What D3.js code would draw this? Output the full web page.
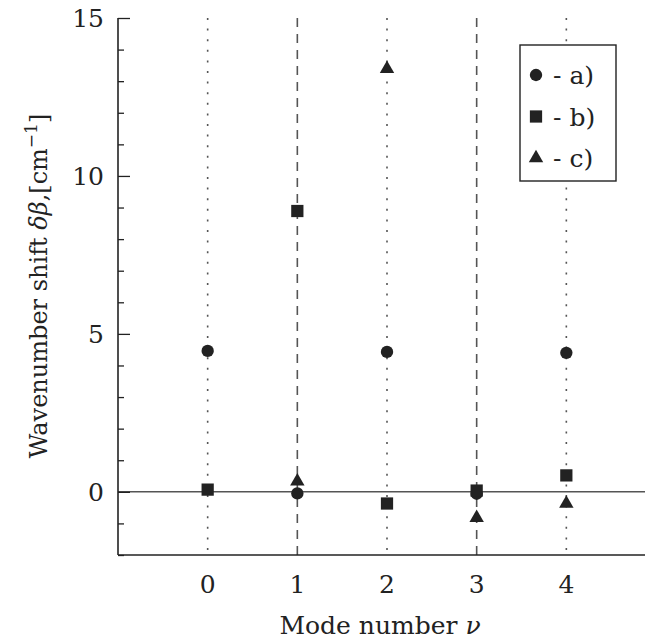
<!DOCTYPE html>
<html>
<head>
<meta charset="utf-8">
<script src="https://cdn.jsdelivr.net/npm/d3@7"></script>
<style>
  body { margin: 0; background: #fff; }
</style>
</head>
<body>
<svg id="chart" width="645" height="642" font-family="'DejaVu Serif', 'Liberation Serif', serif"></svg>
<script>
// mode numbers
const modes = [0, 1, 2, 3, 4];
// wavenumber shift per series (null = not shown)
const seriesA = [4.46, -0.05, 4.43, -0.06, 4.4];
const seriesB = [0.07, 8.89, -0.37, 0.04, 0.52];
const seriesC = [null, 0.33, 13.39, -0.82, -0.37];
const seriesNames = ["a)", "b)", "c)"];
const yTicks = [0, 5, 10, 15];
const dashedModes = [1, 3];

const x = d3.scaleLinear().domain([-1, 5]).range([118, 656]);
const y = d3.scaleLinear().domain([-2, 15]).range([555, 18]);
const serif = "'DejaVu Serif', 'Liberation Serif', serif";

const svg = d3.select("#chart");

// vertical guide lines at each mode
svg.append("g").selectAll("line")
  .data(modes)
  .join("line")
  .attr("x1", d => x(d)).attr("x2", d => x(d))
  .attr("y1", y(15)).attr("y2", y(-2))
  .attr("stroke", "#555")
  .attr("stroke-width", 1.6)
  .attr("stroke-dasharray", d => dashedModes.includes(d) ? "9,7" : "2,8.6");

// zero line
svg.append("line")
  .attr("x1", x(-1)).attr("x2", 645)
  .attr("y1", y(0)).attr("y2", y(0))
  .attr("stroke", "#555").attr("stroke-width", 1.4);

// y axis with inward ticks
let yAxis = d3.axisRight(y)
  .tickValues(d3.range(-2, 16))
  .tickSize(0)
  .tickFormat("");
let gy = svg.append("g").attr("transform", "translate(" + x(-1) + ",0)").call(yAxis);
gy.select(".domain").remove();
gy.selectAll(".tick line")
  .attr("x2", d => yTicks.includes(d) ? 12 : 6)
  .attr("stroke", "#222").attr("stroke-width", 1.3);

svg.append("line")
  .attr("x1", x(-1)).attr("x2", x(-1))
  .attr("y1", y(15)).attr("y2", y(-2))
  .attr("stroke", "#222").attr("stroke-width", 1.6);
svg.append("line")
  .attr("x1", x(-1)).attr("x2", 645)
  .attr("y1", y(-2)).attr("y2", y(-2))
  .attr("stroke", "#222").attr("stroke-width", 1.6);

// tick labels
svg.append("g").selectAll("text")
  .data(yTicks)
  .join("text")
  .attr("x", x(-1) - 14).attr("y", d => y(d) + 9)
  .attr("text-anchor", "end")
  .attr("font-family", serif)
  .attr("font-size", 25)
  .attr("fill", "#222")
  .text(d => d);

svg.append("g").selectAll("text")
  .data(modes)
  .join("text")
  .attr("x", d => x(d)).attr("y", 593)
  .attr("text-anchor", "middle")
  .attr("font-family", serif)
  .attr("font-size", 25)
  .attr("fill", "#222")
  .text(d => d);

// axis titles
svg.append("text")
  .attr("x", 380).attr("y", 634)
  .attr("text-anchor", "middle")
  .attr("font-family", serif)
  .attr("font-size", 25)
  .attr("fill", "#222")
  .html('Mode number <tspan font-style="italic">ν</tspan>');

svg.append("text")
  .attr("transform", "translate(47,286) rotate(-90)")
  .attr("text-anchor", "middle")
  .attr("font-family", serif)
  .attr("font-size", 24)
  .attr("fill", "#222")
  .html('Wavenumber shift <tspan font-style="italic">δβ</tspan>,[cm<tspan dy="-10" font-size="17">−1</tspan><tspan dy="10">]</tspan>');

// markers
const sym = [d3.symbolCircle, d3.symbolSquare, d3.symbolTriangle];
const symSize = [120, 150, 90];
[seriesA, seriesB, seriesC].forEach((s, i) => {
  let pts = modes.map((m, j) => ({m: m, v: s[j]})).filter(d => d.v !== null);
  svg.append("g").selectAll("path")
    .data(pts)
    .join("path")
    .attr("transform", d => "translate(" + x(d.m) + "," + y(d.v) + ")")
    .attr("d", d3.symbol(sym[i], symSize[i]))
    .attr("fill", "#222");
});

// legend
let lg = svg.append("g");
lg.append("rect")
  .attr("x", 520).attr("y", 45).attr("width", 96).attr("height", 136)
  .attr("fill", "#fff").attr("stroke", "#222").attr("stroke-width", 1.4);
seriesNames.forEach((n, i) => {
  let ly = 75 + i * 41.5;
  lg.append("path")
    .attr("transform", "translate(536," + ly + ")")
    .attr("d", d3.symbol(sym[i], symSize[i]))
    .attr("fill", "#222");
  lg.append("text")
    .attr("x", 553).attr("y", ly + 9)
    .attr("font-family", serif)
    .attr("font-size", 25)
    .attr("fill", "#222")
    .text("- " + n);
});
</script>
</body>
</html>
